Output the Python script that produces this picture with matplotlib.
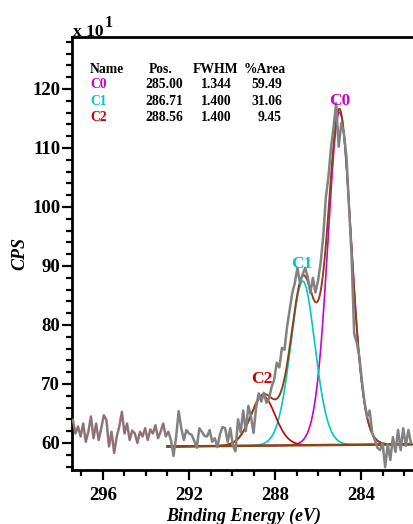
import numpy as np
import matplotlib.pyplot as plt
from matplotlib.ticker import MultipleLocator

plt.rcParams['font.family'] = 'Liberation Serif'
plt.rcParams['font.weight'] = 'bold'

# raw spectrum (CPS x10), 0.12 eV step from 297.4 eV
e_start = 297.4
e_step = 0.12
counts = [63.9, 61.6, 62.8, 61.1, 63.3, 60.2, 61.9, 64.5, 60.8, 63.3,
          60.5, 62.5, 64.7, 63.9, 59.4, 61.9, 58.3, 61.1, 62.8, 65.3,
          61.6, 63.3, 60.5, 62.1, 61.6, 60.0, 61.9, 61.1, 62.5, 60.5,
          62.3, 61.6, 63.0, 60.8, 61.9, 63.3, 61.1, 61.9, 60.5, 57.8,
          61.0, 65.4, 62.5, 60.5, 62.2, 61.6, 61.4, 60.4, 59.2, 62.5,
          61.9, 61.2, 61.1, 62.2, 60.2, 60.8, 59.3, 61.5, 62.7, 62.5,
          60.2, 62.5, 59.5, 58.6, 64.0, 61.8, 65.5, 62.0, 66.3, 64.5,
          61.7, 66.0, 68.4, 67.0, 68.5, 66.8, 67.5, 69.5, 70.7, 73.6,
          72.8, 76.1, 75.8, 79.7, 82.5, 85.4, 87.1, 89.7, 87.1, 88.5,
          89.7, 88.1, 85.4, 88.0, 85.5, 87.5, 90.5, 95.0, 101.5, 105.0,
          110.0, 113.5, 117.6, 110.2, 114.2, 112.5, 108.5, 100.0, 91.5, 78.5,
          77.0, 74.6, 70.5, 67.0, 64.4, 65.5, 61.7, 60.5, 59.2, 58.8,
          60.0, 55.9, 59.8, 57.1, 61.0, 58.5, 62.2, 58.8, 62.5, 59.5,
          62.2, 60.0]

# fit table
names = ['C0', 'C1', 'C2']
pos = [285.00, 286.71, 288.56]
fwhm = [1.344, 1.400, 1.400]
area = [59.49, 31.06, 9.45]
heights = [56.4, 27.8, 8.4]
colors = ['#cc00cc', '#00c8c8', '#cc0000']
gl_mix = 0.3   # GL(30) line shape

# linear background
bg_e = [293.0, 281.2]
bg_y = [59.4, 59.8]

energy = e_start - e_step * np.arange(len(counts))
counts = np.array(counts)

fig = plt.figure(figsize=(4.13, 5.24), dpi=100)
ax = fig.add_axes([72/413, 54/524, 348/413, 433/524])

xf = np.linspace(bg_e[0], bg_e[1], 800)
bg = np.interp(xf, bg_e[::-1], bg_y[::-1])
env = bg.copy()
for p, w, h, c in zip(pos, fwhm, heights, colors):
    u = (xf - p)**2 / w**2
    comp = h * np.exp(-4 * np.log(2) * (1 - gl_mix) * u) / (1 + 4 * gl_mix * u)
    env += comp
    ax.plot(xf, bg + comp, color=c, lw=1.2, zorder=2)
ax.plot(xf, bg, color='#8b4513', lw=1.8, zorder=3)
ax.plot(xf, env, color='#8b4513', lw=1.4, zorder=3)

ax.plot(energy, counts, color='#828282', lw=1.8, zorder=4)
left = energy >= bg_e[0] - 0.05
ax.plot(energy[left], counts[left], color='#b05868', lw=0.5, zorder=5)

# peak labels
lab_x = [284.98, 286.74, 288.63]
lab_y = [117.3, 89.7, 70.2]
for n, lx, ly, c in zip(names, lab_x, lab_y, colors):
    ax.text(lx, ly, n, color=c, fontsize=12.5, ha='center', va='baseline', zorder=6)

ax.set_xlim(297.44, 281.26)
ax.set_ylim(55.42, 128.8)
ax.xaxis.set_major_locator(MultipleLocator(4))
ax.xaxis.set_minor_locator(MultipleLocator(1))
ax.yaxis.set_major_locator(MultipleLocator(10))
ax.yaxis.set_minor_locator(MultipleLocator(2))
ax.tick_params(which='major', direction='out', length=7, width=1.6, labelsize=13.5, pad=1.5)
ax.tick_params(which='minor', direction='out', length=4.5, width=1.6)
ax.tick_params(axis='x', which='major', pad=5)
ax.tick_params(top=False, right=False, which='both')
for sp in ax.spines.values():
    sp.set_linewidth(2.0)
ax.spines['right'].set_visible(False)

fig.text(244/413, 1 - 516/524, 'Binding Energy (eV)', style='italic', fontsize=13,
         ha='center', va='center')
fig.text(20/413, 1 - 253/524, 'CPS', style='italic', fontsize=13,
         ha='center', va='center', rotation=90)
fig.text(73/413, 1 - 36/524, 'x 10', fontsize=12.5, ha='left', va='baseline')
fig.text(105/413, 1 - 27/524, '1', fontsize=11.5, ha='left', va='baseline')

# table
def fx(px):
    return px / 413

def fy(py):
    return 1 - py / 524

fig.text(fx(90), fy(73), 'Name', fontsize=9.8, ha='left', va='baseline')
fig.text(fx(149), fy(73), 'Pos.', fontsize=9.8, ha='left', va='baseline')
fig.text(fx(193), fy(73), 'FWHM', fontsize=9.8, ha='left', va='baseline')
fig.text(fx(244), fy(73), '%Area', fontsize=9.8, ha='left', va='baseline')
rows_y = [88, 105, 121]
for n, p, w, a, c, ry in zip(names, pos, fwhm, area, colors, rows_y):
    fig.text(fx(90), fy(ry), n, fontsize=9.8, color=c, ha='left', va='baseline')
    fig.text(fx(183), fy(ry), '%.2f' % p, fontsize=9.8, ha='right', va='baseline')
    fig.text(fx(232), fy(ry), '%.3f' % w, fontsize=9.8, ha='right', va='baseline')
    fig.text(fx(282), fy(ry), '%.2f' % a, fontsize=9.8, ha='right', va='baseline')

fig.savefig('out.png', dpi=100)
